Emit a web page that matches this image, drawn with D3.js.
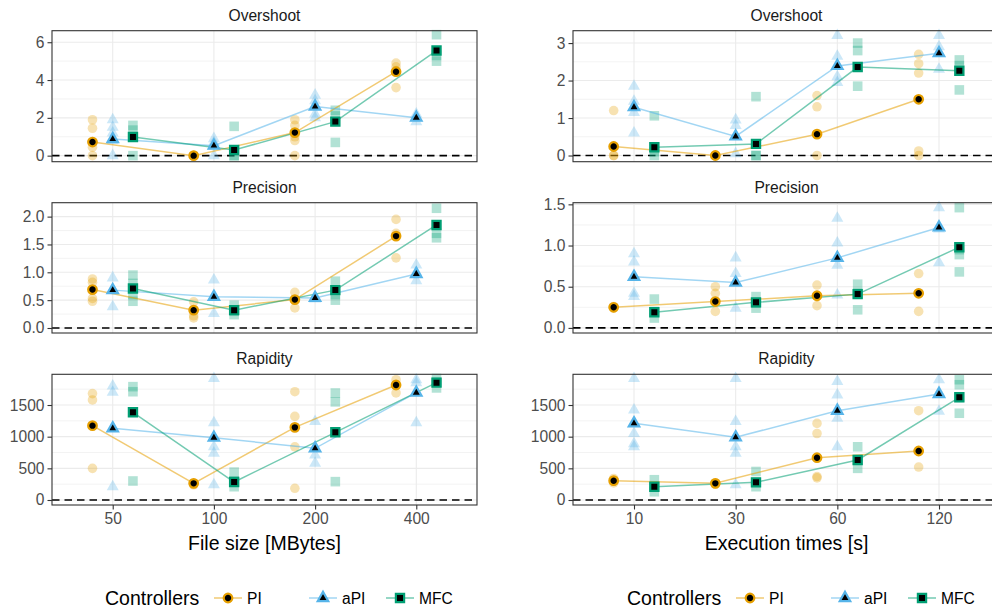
<!DOCTYPE html>
<html><head><meta charset="utf-8">
<script src="https://cdn.jsdelivr.net/npm/d3@7"></script>
<style>body{margin:0;background:#fff}svg{display:block}text{font-family:"Liberation Sans",Arial,sans-serif}</style>
</head><body><svg id="c" width="992" height="610"></svg>
<script>
// ---------- data ----------
const controllers = ["PI", "aPI", "MFC"];
const colors = ["#E69F00", "#56B4E9", "#009E73"];
const metrics = ["Overshoot", "Precision", "Rapidity"];
const fileSizes = ["50", "100", "200", "400"];
const execTimes = ["10", "30", "60", "120"];

// means: [PI, aPI, MFC] x categories
const fileOvershootMean = [[0.72, 0.0, 1.22, 4.44], [0.88, 0.53, 2.6, 2.01], [0.99, 0.3, 1.8, 5.56]];
const fileOvershootRaw = [
  [[1.9, 1.45, 0.75, 0.45, 0], [0, 0, 0], [1.9, 1.6, 1.0, 0.8, 0], [4.9, 4.7, 4.5, 3.6]],
  [[1.9, 1.5, 1.2, 0.8, 0], [0.9, 0.7, 0.5, 0], [3.2, 2.9, 2.2, 2.0], [2.2, 2.0, 1.8]],
  [[1.6, 1.35, 0], [1.55, 0, 0], [2.4, 2.1, 0.7], [6.4, 5.3, 5.0]]];
const execOvershootMean = [[0.24, 0.0, 0.57, 1.5], [1.29, 0.51, 2.39, 2.73], [0.22, 0.31, 2.36, 2.26]];
const execOvershootRaw = [
  [[1.2, 0, 0], [0, 0], [1.6, 1.3, 0], [2.7, 2.45, 2.2, 0.12, 0]],
  [[1.85, 1.45, 1.15, 0.6], [0.95, 0.8, 0.05], [3.2, 2.65, 2.1, 1.95], [3.2, 2.9, 2.3]],
  [[1.06, 0.1, 0], [1.57, 0, 0], [3.0, 2.8, 1.85], [2.55, 2.4, 1.75]]];
const filePrecisionMean = [[0.69, 0.32, 0.51, 1.65], [0.68, 0.56, 0.54, 0.97], [0.71, 0.32, 0.68, 1.85]];
const filePrecisionRaw = [
  [[0.88, 0.82, 0.53, 0.48], [0.47, 0.22, 0.18], [0.64, 0.5, 0.36], [1.95, 1.7, 1.26]],
  [[0.9, 0.7, 0.38], [0.86, 0.56, 0.26], [0.56, 0.52], [1.13, 1.0, 0.85]],
  [[0.95, 0.8, 0.6, 0.48], [0.41, 0.3, 0.24], [0.84, 0.6, 0.5], [2.15, 1.7, 1.62]]];
const execPrecisionMean = [[0.25, 0.32, 0.39, 0.42], [0.62, 0.55, 0.85, 1.22], [0.19, 0.31, 0.41, 0.98]];
const execPrecisionRaw = [
  [[0.26, 0.24], [0.5, 0.42, 0.2], [0.52, 0.38, 0.27], [0.66, 0.42, 0.2]],
  [[0.9, 0.8, 0.42, 0.38], [0.85, 0.66, 0.24], [1.33, 1.03, 0.76, 0.4], [1.46, 1.2, 0.79]],
  [[0.35, 0.2, 0.12], [0.38, 0.3, 0.24], [0.53, 0.42, 0.22], [1.46, 0.95, 0.89, 0.68]]];
const fileRapidityMean = [[1174, 263, 1147, 1816], [1132, 984, 816, 1695], [1385, 284, 1069, 1853]];
const fileRapidityRaw = [
  [[1680, 1580, 500], [260, 240], [1710, 1320, 840, 185], [1900, 1820, 1690]],
  [[1800, 1700, 210], [1920, 1220, 840, 740, 240], [1240, 710, 580], [1900, 1850, 1220]],
  [[1790, 1710, 300], [440, 300, 210], [1690, 1550, 290], [1920, 1860, 1770]]];
const execRapidityMean = [[305, 263, 668, 774], [1211, 990, 1410, 1674], [210, 279, 632, 1622]];
const execRapidityRaw = [
  [[340, 300, 270], [270, 250], [1210, 1050, 370, 350], [1410, 520]],
  [[1920, 1420, 1050, 890, 840], [1920, 1240, 840, 740, 240], [1870, 1660, 1290, 840], [1900, 1700, 1400]],
  [[320, 210, 130], [450, 280, 210], [840, 640, 500], [1900, 1820, 1620, 1370]]];

const overshootTicks = { file: [0, 2, 4, 6], exec: [0, 1, 2, 3] };
const precisionTicks = { file: [0, 0.5, 1.0, 1.5, 2.0], exec: [0, 0.5, 1.0, 1.5] };
const rapidityTicks = [0, 500, 1000, 1500];
const xTitles = ["File size [MBytes]", "Execution times [s]"];
const legendTitle = "Controllers";

// ---------- layout ----------
const svg = d3.select("#c");
const cols = [
  { x0: 52, x1: 477, cats: fileSizes, title: xTitles[0], key: "file" },
  { x0: 573, x1: 1000, cats: execTimes, title: xTitles[1], key: "exec" }];
const rows = [{ y0: 30.7, y1: 161.7 }, { y0: 202.7, y1: 333 }, { y0: 374.3, y1: 505 }];
const panels = [
  { c: 0, r: 0, mean: fileOvershootMean, raw: fileOvershootRaw, dom: [-0.32, 6.61], ticks: overshootTicks.file, fmt: d3.format("d") },
  { c: 1, r: 0, mean: execOvershootMean, raw: execOvershootRaw, dom: [-0.165, 3.33], ticks: overshootTicks.exec, fmt: d3.format("d") },
  { c: 0, r: 1, mean: filePrecisionMean, raw: filePrecisionRaw, dom: [-0.09, 2.25], ticks: precisionTicks.file, fmt: d3.format(".1f") },
  { c: 1, r: 1, mean: execPrecisionMean, raw: execPrecisionRaw, dom: [-0.062, 1.52], ticks: precisionTicks.exec, fmt: d3.format(".1f") },
  { c: 0, r: 2, mean: fileRapidityMean, raw: fileRapidityRaw, dom: [-79, 1985], ticks: rapidityTicks, fmt: d3.format("d") },
  { c: 1, r: 2, mean: execRapidityMean, raw: execRapidityRaw, dom: [-79, 1985], ticks: rapidityTicks, fmt: d3.format("d") }];

const dodge = [-0.2, 0, 0.2];
function shapePath(ci, big) {
  if (ci === 0) { const r = big ? 4.3 : 4.8; return `M${-r},0A${r},${r} 0 1,1 ${r},0A${r},${r} 0 1,1 ${-r},0Z`; }
  if (ci === 1) { const w = big ? 10.5 : 12, h = w * 0.88; return `M0,${-h * 2 / 3}L${w / 2},${h / 3}L${-w / 2},${h / 3}Z`; }
  const s = big ? 4.1 : 4.8; return `M${-s},${-s}H${s}V${s}H${-s}Z`;
}

panels.forEach(p => {
  const col = cols[p.c], row = rows[p.r];
  const x = d3.scaleLinear().domain([-0.6, 3.6]).range([col.x0, col.x1]);
  const y = d3.scaleLinear().domain(p.dom).range([row.y1, row.y0]);
  const g = svg.append("g");
  // grid
  const minor = [];
  for (let i = 0; i < p.ticks.length; i++) {
    const a = p.ticks[i], b = i < p.ticks.length - 1 ? p.ticks[i + 1] : a + (p.ticks[1] - p.ticks[0]);
    minor.push((a + b) / 2);
  }
  const d0 = p.ticks[1] - p.ticks[0];
  minor.push(p.ticks[0] - d0 / 2);
  g.selectAll(".mn").data(minor.filter(v => y(v) > row.y0 && y(v) < row.y1)).enter().append("line")
    .attr("x1", col.x0).attr("x2", col.x1).attr("y1", d => y(d)).attr("y2", d => y(d))
    .attr("stroke", "#EBEBEB").attr("stroke-width", 0.6);
  g.selectAll(".mj").data(p.ticks).enter().append("line")
    .attr("x1", col.x0).attr("x2", col.x1).attr("y1", d => y(d)).attr("y2", d => y(d))
    .attr("stroke", "#EBEBEB").attr("stroke-width", 1.1);
  g.selectAll(".mv").data([0, 1, 2, 3]).enter().append("line")
    .attr("x1", d => x(d)).attr("x2", d => x(d)).attr("y1", row.y0).attr("y2", row.y1)
    .attr("stroke", "#EBEBEB").attr("stroke-width", 1.1);
  // zero line
  g.append("line").attr("x1", col.x0).attr("x2", col.x1).attr("y1", y(0)).attr("y2", y(0))
    .attr("stroke", "#000").attr("stroke-width", 1.6).attr("stroke-dasharray", "7.5,5");
  // raw points
  controllers.forEach((c, ci) => {
    p.raw[ci].forEach((vals, k) => {
      g.selectAll(null).data(vals).enter().append("path")
        .attr("d", shapePath(ci, false))
        .attr("transform", v => `translate(${x(k + dodge[ci])},${y(v)})`)
        .attr("fill", colors[ci]).attr("fill-opacity", 0.3);
    });
  });
  // lines
  controllers.forEach((c, ci) => {
    const line = d3.line().x((v, k) => x(k + dodge[ci])).y(v => y(v));
    g.append("path").attr("d", line(p.mean[ci])).attr("fill", "none")
      .attr("stroke", colors[ci]).attr("stroke-opacity", 0.55).attr("stroke-width", 1.5);
  });
  // means
  controllers.forEach((c, ci) => {
    g.selectAll(null).data(p.mean[ci]).enter().append("path")
      .attr("d", shapePath(ci, true))
      .attr("transform", (v, k) => `translate(${x(k + dodge[ci])},${y(v)})`)
      .attr("fill", "#000").attr("stroke", colors[ci]).attr("stroke-width", 2.2);
  });
  // border
  g.append("rect").attr("x", col.x0).attr("y", row.y0).attr("width", col.x1 - col.x0).attr("height", row.y1 - row.y0)
    .attr("fill", "none").attr("stroke", "#333").attr("stroke-width", 1.1);
  // y axis
  const ya = g.append("g").attr("transform", `translate(${col.x0},0)`)
    .call(d3.axisLeft(y).tickValues(p.ticks).tickFormat(p.fmt).tickSize(4.5).tickPadding(3));
  ya.select(".domain").remove();
  ya.selectAll(".tick line").attr("stroke", "#333").attr("stroke-width", 1.1);
  ya.selectAll("text").attr("fill", "#4D4D4D").style("font-size", "15.6px").style("font-family", "Liberation Sans, Arial, sans-serif");
  // strip title
  svg.append("text").attr("x", (col.x0 + col.x1) / 2).attr("y", row.y0 - 10)
    .attr("text-anchor", "middle").attr("fill", "#1A1A1A").style("font-size", "15.6px").text(metrics[p.r]);
  // x axis on bottom row
  if (p.r === 2) {
    const xa = g.append("g").attr("transform", `translate(0,${row.y1})`)
      .call(d3.axisBottom(x).tickValues([0, 1, 2, 3]).tickFormat(i => col.cats[i]).tickSize(4.5).tickPadding(3));
    xa.select(".domain").remove();
    xa.selectAll(".tick line").attr("stroke", "#333").attr("stroke-width", 1.1);
    xa.selectAll("text").attr("fill", "#4D4D4D").style("font-size", "15.6px").style("font-family", "Liberation Sans, Arial, sans-serif");
    svg.append("text").attr("x", (col.x0 + col.x1) / 2).attr("y", 550)
      .attr("text-anchor", "middle").attr("fill", "#000").style("font-size", "19.5px").text(col.title);
  }
});

// legends
const legendKeys = [[228, 323, 400], [750, 845, 922]];
const legendTitleX = [105, 627];
[0, 1].forEach(li => {
  const lg = svg.append("g");
  lg.append("text").attr("x", legendTitleX[li]).attr("y", 605).style("font-size", "19.5px").attr("fill", "#000").text(legendTitle);
  controllers.forEach((c, ci) => {
    const kx = legendKeys[li][ci], ky = 598;
    lg.append("line").attr("x1", kx - 14).attr("x2", kx + 14).attr("y1", ky).attr("y2", ky)
      .attr("stroke", colors[ci]).attr("stroke-opacity", 0.55).attr("stroke-width", 1.5);
    lg.append("path").attr("d", shapePath(ci, true)).attr("transform", `translate(${kx},${ky})`)
      .attr("fill", "#000").attr("stroke", colors[ci]).attr("stroke-width", 2.2);
    lg.append("text").attr("x", kx + 19).attr("y", ky + 5.5).style("font-size", "15.6px").attr("fill", "#000").text(c);
  });
});
</script></body></html>
